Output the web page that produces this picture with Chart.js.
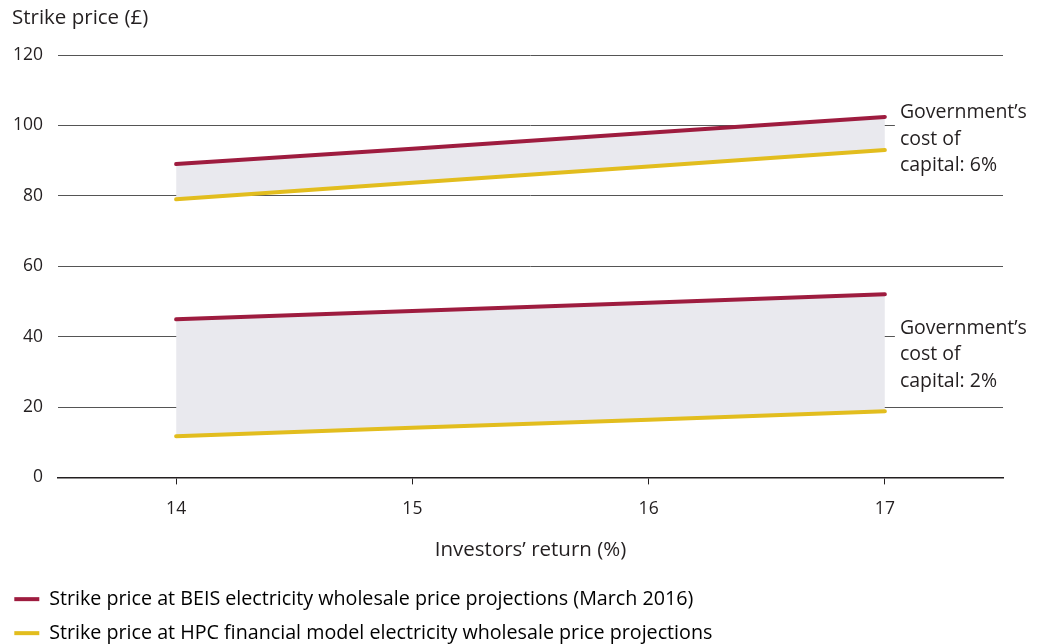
<!DOCTYPE html>
<html>
<head>
<meta charset="utf-8">
<script src="https://cdn.jsdelivr.net/npm/chart.js@4"></script>
<style>
  html, body { margin: 0; padding: 0; background: #fff; }
  #wrap { width: 1041px; height: 644px; }
</style>
</head>
<body>
<div id="wrap"><canvas id="chart"></canvas></div>
<script>
const returns = ["14", "15", "16", "17"];
const beis6 = [89.0, 93.4, 97.9, 102.4];
const hpc6 = [79.0, 83.7, 88.3, 93.0];
const beis2 = [44.9, 47.3, 49.6, 52.0];
const hpc2 = [11.7, 14.1, 16.4, 18.8];
const yTicks = [0, 20, 40, 60, 80, 100, 120];
const costLabels = [
    { at: 103.6, lines: ["Government\u2019s", "cost of", "capital: 6%"] },
    { at: 42.4, lines: ["Government\u2019s", "cost of", "capital: 2%"] },
];

const RED = "#9e1c3f";
const YELLOW = "#e2bd1e";
const BAND = "#e9e9ee";
const INK = "#231f20";
const FONT = "'Open Sans', sans-serif";

const legendNames = [
    "Strike price at BEIS electricity wholesale price projections (March 2016)",
    "Strike price at HPC financial model electricity wholesale price projections",
];

function line(label, data, color, fill) {
    return {
        label: label,
        data: data,
        borderColor: color,
        borderWidth: 4,
        borderCapStyle: "round",
        backgroundColor: BAND,
        fill: fill,
        pointRadius: 0,
        tension: 0,
    };
}

// top-left axis caption and the two "cost of capital" notes
const notes = {
    id: "notes",
    afterDraw(chart) {
        const ctx = chart.ctx;
        const x = chart.scales.x.getPixelForValue(returns.length - 1) + 15;
        const y = chart.scales.y;
        ctx.save();
        ctx.fillStyle = INK;
        ctx.textBaseline = "middle";
        ctx.textAlign = "left";
        ctx.font = `20.5px ${FONT}`;
        ctx.fillText("Strike price (\u00a3)", 12, 18);
        ctx.font = `19.5px ${FONT}`;
        costLabels.forEach(c => {
            const y0 = y.getPixelForValue(c.at);
            ctx.fillStyle = "#fff";
            ctx.fillRect(x - 5, y0 - 13, chart.width - x + 5, 26.5 * 2 + 26);
            ctx.fillStyle = INK;
            c.lines.forEach((t, i) => ctx.fillText(t, x, y0 + i * 26.5));
        });
        ctx.restore();
    }
};

new Chart(document.getElementById("chart"), {
    type: "line",
    data: {
        labels: returns,
        datasets: [
            line(legendNames[0], beis6, RED, "+1"),
            line(legendNames[1], hpc6, YELLOW, false),
            line(legendNames[0], beis2, RED, "+1"),
            line(legendNames[1], hpc2, YELLOW, false),
        ],
    },
    options: {
        responsive: true,
        maintainAspectRatio: false,
        animation: false,
        layout: { padding: { top: 55, right: 38, left: 0, bottom: -9 } },
        scales: {
            x: {
                offset: true,
                grid: { drawOnChartArea: false, drawTicks: true, tickLength: 7, color: INK },
                border: { display: true, color: INK, width: 1.5 },
                ticks: { color: INK, padding: 14, font: { family: FONT, size: 17.5 } },
                title: {
                    display: true,
                    text: "Investors\u2019 return (%)",
                    color: INK,
                    font: { family: FONT, size: 20.5 },
                    padding: { top: 4, bottom: 13 },
                },
            },
            y: {
                min: 0,
                max: 120,
                afterBuildTicks: s => { s.ticks = yTicks.map(v => ({ value: v })); },
                afterFit: s => { s.width = 58; },
                grid: { drawTicks: false, color: "#555", lineWidth: 1 },
                border: { display: false },
                ticks: { color: INK, padding: 15, font: { family: FONT, size: 17.5 } },
            },
        },
        plugins: {
            filler: { drawTime: "beforeDatasetsDraw" },
            legend: {
                position: "bottom",
                align: "start",
                labels: {
                    color: INK,
                    font: { family: FONT, size: 19.7 },
                    boxWidth: 25,
                    boxHeight: 4,
                    padding: 14.3,
                    generateLabels: chart => legendNames.map((name, i) => ({
                        text: name,
                        fillStyle: i === 0 ? RED : YELLOW,
                        strokeStyle: i === 0 ? RED : YELLOW,
                        lineWidth: 0,
                        datasetIndex: i,
                        hidden: false,
                    })),
                },
            },
            tooltip: { enabled: false },
        },
    },
    plugins: [notes],
});
</script>
</body>
</html>
